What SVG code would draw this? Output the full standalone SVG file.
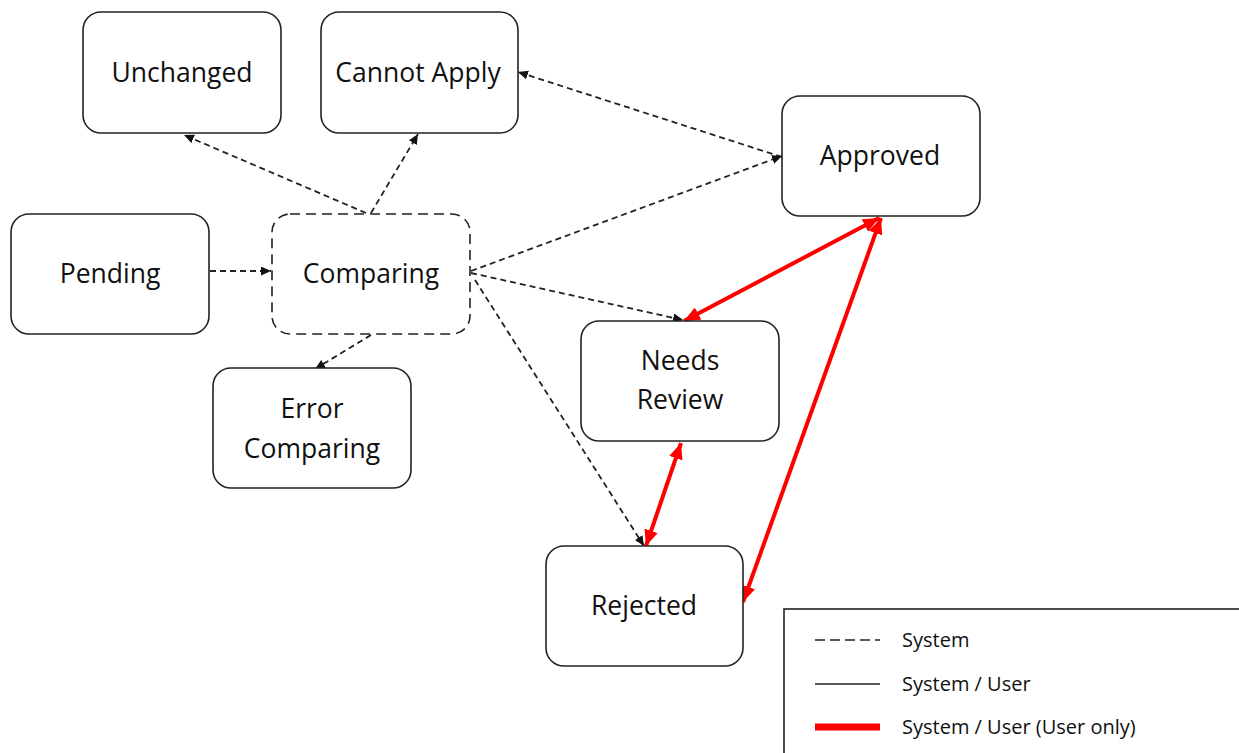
<svg xmlns="http://www.w3.org/2000/svg" width="1239" height="753" viewBox="0 0 1239 753">
<style>
.node{fill:#fff;stroke:#222;stroke-width:1.6}
.dnode{fill:#fff;stroke:#222;stroke-width:1.6;stroke-dasharray:10 6}
.t{font-family:"Open Sans","Liberation Sans",sans-serif;font-size:26.5px;fill:#111;text-anchor:middle}
.lt{font-family:"Open Sans","Liberation Sans",sans-serif;font-size:20px;fill:#111}
.sys{fill:none;stroke:#222;stroke-width:1.8;stroke-dasharray:6 4}
.usr{fill:none;stroke:#f00;stroke-width:4}
</style>
<defs>
<marker id="ah" markerUnits="userSpaceOnUse" markerWidth="12" markerHeight="10" refX="10" refY="4.5" orient="auto">
<path d="M0,0 L10,4.5 L0,9 z" fill="#111"/>
</marker>
<marker id="rh" markerUnits="userSpaceOnUse" markerWidth="18" markerHeight="14" refX="16" refY="7" orient="auto-start-reverse">
<path d="M0,0 L16,7 L0,14 z" fill="#f00"/>
</marker>
</defs>
<rect width="1239" height="753" fill="#fff"/>
<g id="connectors">
<line class="sys" x1="210" y1="271" x2="271" y2="271" marker-end="url(#ah)"/>
<line class="sys" x1="366" y1="213" x2="184" y2="135" marker-end="url(#ah)"/>
<line class="sys" x1="371" y1="213" x2="418" y2="134" marker-end="url(#ah)"/>
<line class="sys" x1="782" y1="157" x2="518" y2="72" marker-end="url(#ah)"/>
<line class="sys" x1="471" y1="271" x2="782" y2="156" marker-end="url(#ah)"/>
<line class="sys" x1="471" y1="273" x2="683" y2="320" marker-end="url(#ah)"/>
<line class="sys" x1="475" y1="280" x2="644" y2="546" marker-end="url(#ah)"/>
<line class="sys" x1="371" y1="335" x2="315" y2="369" marker-end="url(#ah)"/>
<line class="usr" x1="879" y1="218" x2="684" y2="321" marker-start="url(#rh)" marker-end="url(#rh)"/>
<line class="usr" x1="881" y1="218" x2="743" y2="602" marker-start="url(#rh)" marker-end="url(#rh)"/>
<line class="usr" x1="681" y1="443" x2="646" y2="546" marker-start="url(#rh)" marker-end="url(#rh)"/>
</g>
<g id="unchanged"><rect class="node" x="83" y="12" width="198" height="121" rx="18"/><text class="t" x="182" y="82">Unchanged</text></g>
<g id="cannot-apply"><rect class="node" x="321" y="12" width="197" height="121" rx="18"/><text class="t" x="418" y="82">Cannot Apply</text></g>
<g id="approved"><rect class="node" x="782" y="96" width="198" height="120" rx="18"/><text class="t" x="880" y="165">Approved</text></g>
<g id="pending"><rect class="node" x="11" y="214" width="198" height="120" rx="18"/><text class="t" x="110" y="283">Pending</text></g>
<g id="comparing"><rect class="dnode" x="272" y="214" width="198" height="120" rx="18"/><text class="t" x="371" y="283">Comparing</text></g>
<g id="needs-review"><rect class="node" x="581" y="321" width="198" height="120" rx="18"/><text class="t" x="680" y="370">Needs</text><text class="t" x="680" y="409">Review</text></g>
<g id="error-comparing"><rect class="node" x="213" y="368" width="198" height="120" rx="18"/><text class="t" x="312" y="418">Error</text><text class="t" x="312" y="458">Comparing</text></g>
<g id="rejected"><rect class="node" x="546" y="546" width="197" height="120" rx="18"/><text class="t" x="644" y="615">Rejected</text></g>
<g id="legend">
<rect x="784" y="609" width="460" height="150" fill="#fff" stroke="#222" stroke-width="1.6"/>
<line x1="815" y1="640" x2="880" y2="640" stroke="#222" stroke-width="1.5" stroke-dasharray="10 5"/>
<text class="lt" x="902" y="647">System</text>
<line x1="815" y1="684" x2="880" y2="684" stroke="#222" stroke-width="1.5"/>
<text class="lt" x="902" y="691">System / User</text>
<line x1="815" y1="727" x2="880" y2="727" stroke="#f00" stroke-width="7"/>
<text class="lt" x="902" y="734">System / User (User only)</text>
</g>
</svg>
